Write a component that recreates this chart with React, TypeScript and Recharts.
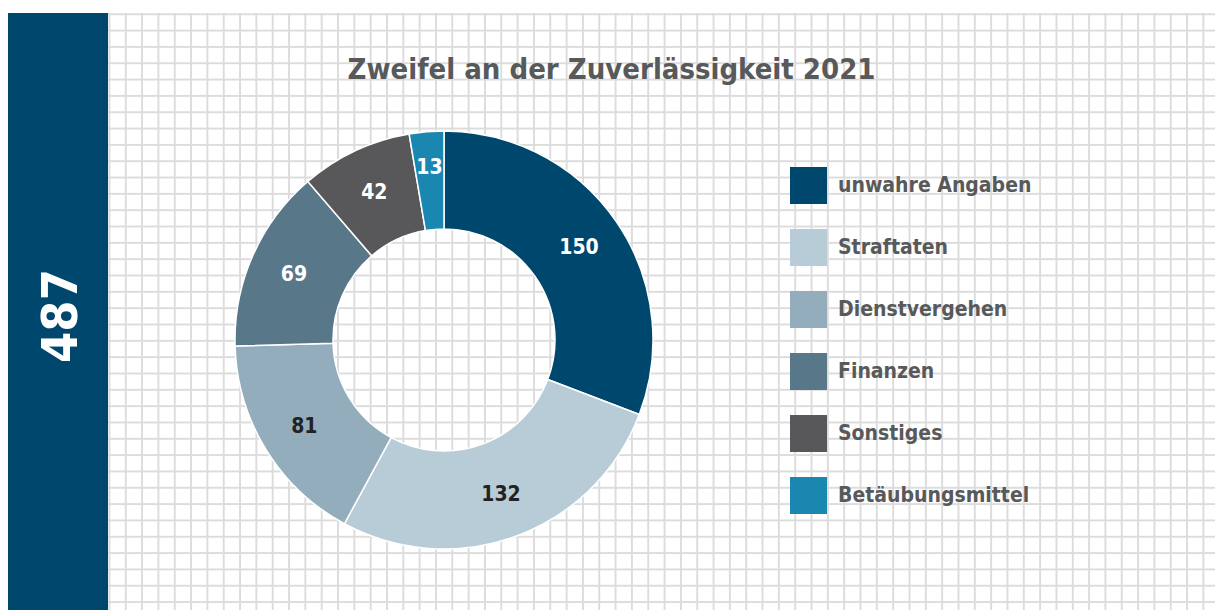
import React from "react";
import { PieChart, Pie, Cell, Legend } from "recharts";

const categories = [
  "unwahre Angaben",
  "Straftaten",
  "Dienstvergehen",
  "Finanzen",
  "Sonstiges",
  "Betäubungsmittel",
];
const values = [150, 132, 81, 69, 42, 13];
const colors = ["#00476E", "#B8CCD8", "#94ADBD", "#58788A", "#58585A", "#1A87B0"];
const labelColors = ["#ffffff", "#222222", "#222222", "#ffffff", "#ffffff", "#ffffff"];
const title = "Zweifel an der Zuverlässigkeit 2021";
const total = 487;

const data = categories.map((name, i) => ({ name, value: values[i] }));

const FONT = "'Liberation Sans Narrow', 'DejaVu Sans Condensed', 'Arial Narrow', sans-serif";
const RAD = Math.PI / 180;

const renderLabel = (props: any) => {
  const { cx, cy, midAngle, value, index } = props;
  const r = index === 5 ? 174 : 164;
  const x = cx + r * Math.cos(-midAngle * RAD);
  const y = cy + r * Math.sin(-midAngle * RAD);
  return (
    <text
      x={x}
      y={y}
      fill={labelColors[index]}
      textAnchor="middle"
      dominantBaseline="central"
      fontFamily={FONT}
      fontWeight="bold"
      fontSize={21}
    >
      {value}
    </text>
  );
};

const renderLegend = (props: any) => {
  const payload = [...(props.payload || [])].sort(
    (a: any, b: any) => categories.indexOf(a.value) - categories.indexOf(b.value)
  );
  return (
    <div style={{ display: "flex", flexDirection: "column" }}>
      {payload.map((p: any, i: number) => (
        <div key={i} style={{ display: "flex", alignItems: "center", height: 62 }}>
          <div style={{ width: 37, height: 37, background: p.color, marginRight: 11 }} />
          <span
            style={{
              fontFamily: FONT,
              fontWeight: "bold",
              fontSize: 21,
              color: "#58595B",
            }}
          >
            {p.value}
          </span>
        </div>
      ))}
    </div>
  );
};

export default function App() {
  return (
    <div style={{ position: "absolute", left: 0, top: 0, width: 1215, height: 610, overflow: "hidden", background: "#fff" }}>
      <div
        style={{
          position: "absolute",
          left: 108,
          top: 13,
          width: 1107,
          height: 597,
          backgroundImage:
            "linear-gradient(to right, #dcdcdc 0px, #dcdcdc 1.7px, transparent 1.7px), linear-gradient(to bottom, #dcdcdc 0px, #dcdcdc 1.7px, transparent 1.7px)",
          backgroundSize: "16.34px 16.34px",
          backgroundPosition: "0.46px 0.3px",
        }}
      />
      <div
        style={{
          position: "absolute",
          left: 8,
          top: 13,
          width: 100,
          height: 597,
          background: "#00476E",
        }}
      >
        <div
          style={{
            position: "absolute",
            left: 52,
            top: 303,
            transform: "translate(-50%, -50%) rotate(-90deg)",
            color: "#fff",
            fontFamily: FONT,
            fontWeight: "bold",
            fontSize: 50,
            lineHeight: 1,
            whiteSpace: "nowrap",
          }}
        >
          {total}
        </div>
      </div>
      <div
        style={{
          position: "absolute",
          left: 108,
          width: 1107,
          top: 52,
          textAlign: "center",
          fontFamily: FONT,
          fontWeight: "bold",
          fontSize: 29,
          color: "#58595B",
          lineHeight: 1.2,
        }}
      >
        <span style={{ position: "relative", left: -50 }}>{title}</span>
      </div>
      <div style={{ position: "absolute", left: 0, top: 0 }}>
        <PieChart width={1215} height={610} margin={{ top: 0, right: 0, bottom: 0, left: 0 }}>
          <Pie
            data={data}
            dataKey="value"
            nameKey="name"
            cx={444}
            cy={340}
            innerRadius={111}
            outerRadius={209}
            startAngle={90}
            endAngle={-270}
            stroke="#ffffff"
            strokeWidth={1.5}
            label={renderLabel}
            labelLine={false}
            isAnimationActive={false}
          >
            {data.map((d, i) => (
              <Cell key={d.name} fill={colors[i]} />
            ))}
          </Pie>
          <Legend
            content={renderLegend}
            layout="vertical"
            wrapperStyle={{ position: "absolute", left: 790, top: 154, width: 400 }}
          />
        </PieChart>
      </div>
    </div>
  );
}
